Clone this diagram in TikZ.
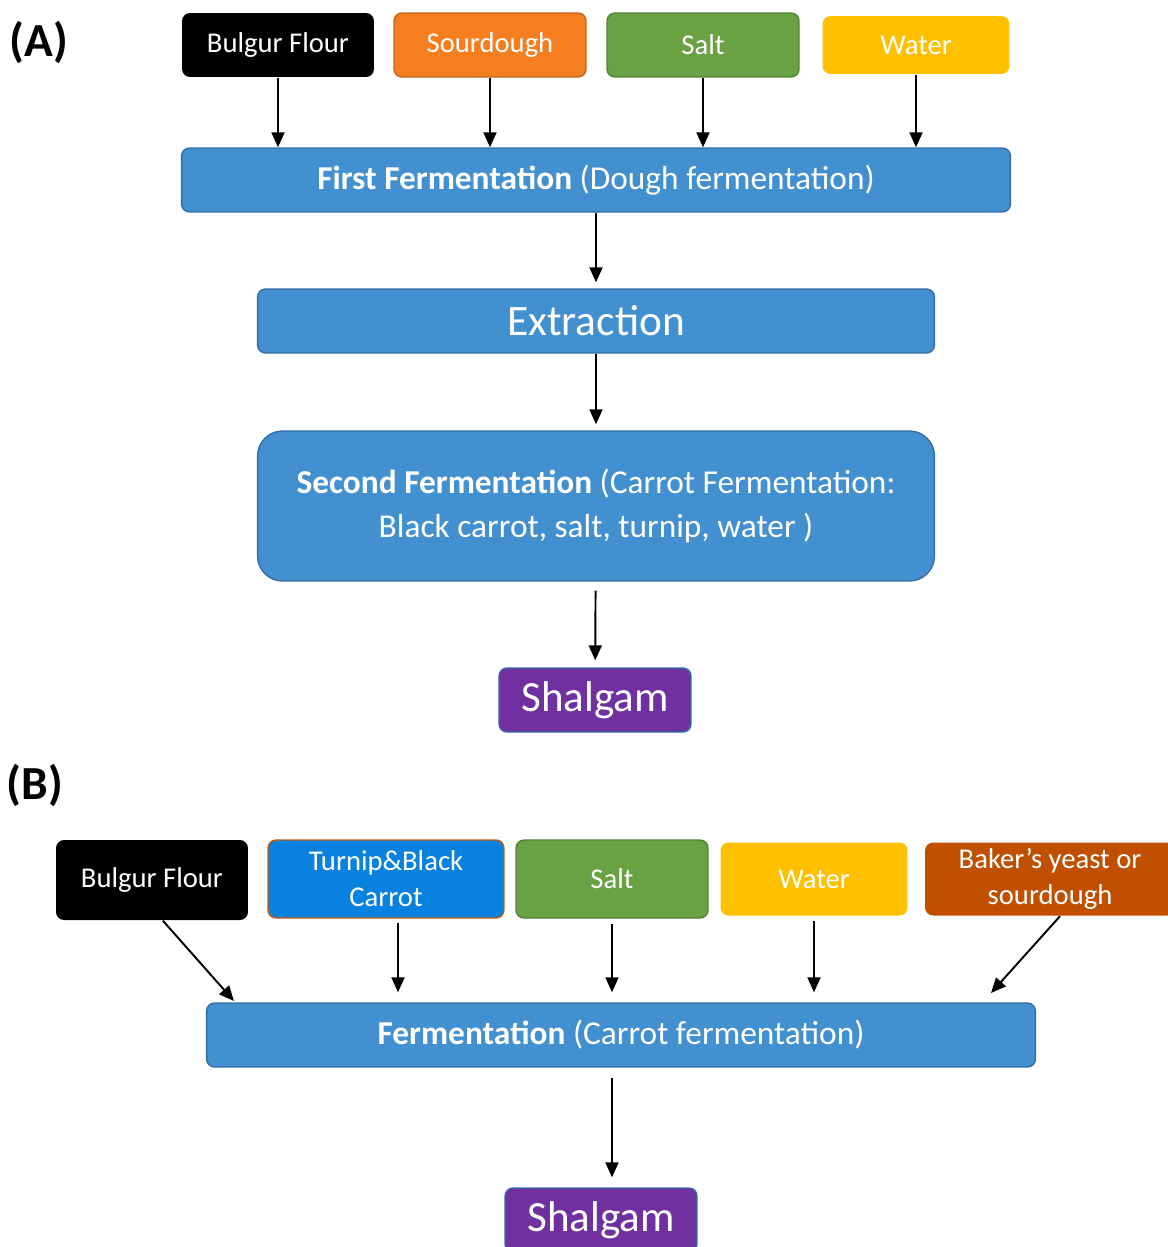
\documentclass[tikz,border=0pt]{standalone}
\usepackage{fontspec}
\setmainfont{Carlito}
\usetikzlibrary{arrows.meta}

\definecolor{procblue}{RGB}{66,144,207}
\definecolor{procedge}{RGB}{52,108,165}
\definecolor{sourorange}{RGB}{244,126,32}
\definecolor{souredge}{RGB}{200,98,26}
\definecolor{saltgreen}{RGB}{106,161,66}
\definecolor{saltedge}{RGB}{84,130,53}
\definecolor{wateryellow}{RGB}{255,192,0}
\definecolor{turnblue}{RGB}{8,130,222}
\definecolor{turnedge}{RGB}{197,90,17}
\definecolor{yeastbrown}{RGB}{192,80,0}
\definecolor{shalpurple}{RGB}{112,48,160}

\begin{document}
\begin{tikzpicture}
        [%%%%%%%%%%%%%%%%%%%%%%%%%%%%%%
        x=0.02cm, y=-0.02cm,
        box/.style={rectangle,rounded corners=0.16cm,text=white,line width=0.8pt,inner sep=2pt,
          align=center,font=\fontsize{16.3}{20.5}\selectfont},
        ingr/.style={box,minimum width=3.84cm,minimum height=1.28cm},
        proc/.style={box,fill=procblue,draw=procedge,minimum height=1.28cm,font=\fontsize{19}{25}\selectfont},
        prod/.style={box,fill=shalpurple,draw=procedge,minimum width=3.84cm,minimum height=1.28cm,
          font=\fontsize{24.5}{28}\selectfont},
        arr/.style={-{Triangle[length=0.3cm,width=0.26cm]},line width=1.1pt},
        tag/.style={font=\bfseries\fontsize{27}{30}\selectfont},
        ]%%%%%%%%%%%%%%%%%%%%%%%%%%%%%%

        \useasboundingbox (0,0) rectangle (1167,1247);

        % (A)
        \node[tag] (tagA) at (39,42) {(A)};
        \node[ingr,fill=black] (flourA) at (278,45) {Bulgur Flour};
        \node[ingr,fill=sourorange,draw=souredge] (sourA) at (490,45) {Sourdough};
        \node[ingr,fill=saltgreen,draw=saltedge] (saltA) at (703,45) {Salt};
        \node[ingr,fill=wateryellow,minimum width=3.74cm,minimum height=1.16cm] (waterA) at (916,45) {Water};

        \node[proc,minimum width=16.58cm] (fermA) at (596,180)
          {\textbf{First Fermentation} (Dough fermentation)};
        \node[proc,minimum width=13.54cm,font=\fontsize{24.7}{28}\selectfont] (extrA) at (596,321) {Extraction};
        \node[proc,minimum width=13.54cm,minimum height=3cm,rounded corners=0.5cm] (secA) at (596,506)
          {\textbf{Second Fermentation} (Carrot Fermentation:\\ Black carrot, salt, turnip, water )};
        \node[prod] (shalA) at (595,700) {Shalgam};

        \foreach \n in {flourA,sourA,saltA,waterA}
          \draw[arr] (\n.south) -- (\n.south |- fermA.north);
        \draw[arr,shorten >=0.12cm] (fermA) -- (extrA);
        \draw[arr,shorten >=0.12cm] (extrA) -- (secA);
        \draw[arr,shorten <=0.18cm,shorten >=0.14cm] (secA) -- (shalA);

        % (B)
        \node[tag] (tagB) at (35,785) {(B)};
        \node[ingr,fill=black,minimum height=1.6cm] (flourB) at (152,880) {Bulgur Flour};
        \node[ingr,fill=turnblue,draw=turnedge,minimum width=4.72cm,minimum height=1.56cm] (turnB) at (386,879)
          {Turnip\&Black\\ Carrot};
        \node[ingr,fill=saltgreen,draw=saltedge,minimum height=1.56cm] (saltB) at (612,879) {Salt};
        \node[ingr,fill=wateryellow,minimum width=3.74cm,minimum height=1.46cm] (waterB) at (814,879) {Water};
        \node[ingr,fill=yeastbrown,minimum width=5cm,minimum height=1.46cm] (yeastB) at (1050,879)
          {Baker’s yeast or\\ sourdough};

        \node[proc,minimum width=16.58cm] (fermB) at (621,1035)
          {\textbf{Fermentation} (Carrot fermentation)};
        \node[prod] (shalB) at (601,1220) {Shalgam};

        \coordinate (inL) at (234,1001);
        \coordinate (inR) at (991,993);
        \draw[arr] (flourB.-75) -- (inL);
        \draw[arr] (yeastB.-75) -- (inR);
        \draw[arr,shorten <=0.08cm,shorten >=0.2cm] ([xshift=0.24cm]turnB.south) -- ([xshift=0.24cm]turnB.south |- fermB.north);
        \foreach \n in {saltB,waterB}
          \draw[arr,shorten <=0.1cm,shorten >=0.2cm] (\n.south) -- (\n.south |- fermB.north);
        \draw[arr,shorten <=0.2cm,shorten >=0.2cm] (fermB.south -| saltB) -- (shalB.north -| saltB);

      \end{tikzpicture}
\end{document}
